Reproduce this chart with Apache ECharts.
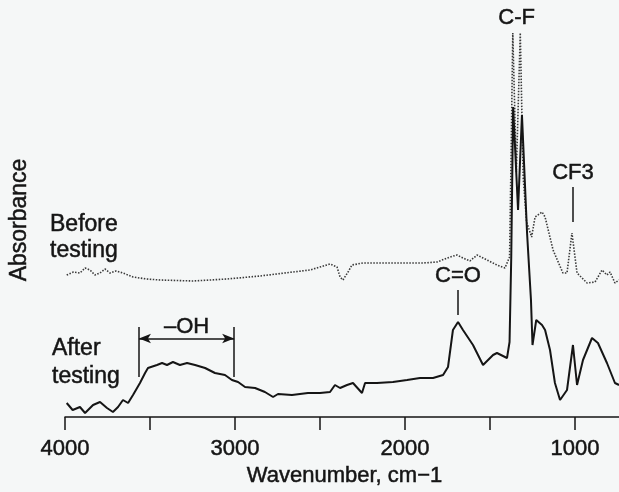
<!DOCTYPE html>
<html>
<head>
<meta charset="utf-8">
<title>IR spectra before / after testing</title>
<script src="https://cdn.jsdelivr.net/npm/echarts@6.0.0/dist/echarts.min.js"></script>
<style>
	html, body { margin: 0; padding: 0; background: #f5f7f7; }
	#chart { width: 619px; height: 492px; }
</style>
</head>
<body>
<div id="chart"></div>
<script>
"use strict";

// wavenumber (cm-1) / absorbance (a.u.)
const afterWn = [3990, 3955, 3912, 3882, 3835, 3794, 3753, 3718, 3688, 3659, 3629, 3600, 3559, 3529, 3512, 3459,
	3429, 3400, 3365, 3324, 3282, 3235, 3176, 3118, 3059, 3018, 2982, 2941, 2882, 2824, 2776, 2747, 2665, 2571,
	2500, 2441, 2412, 2382, 2341, 2306, 2253, 2235, 2165, 2071, 1988, 1912, 1835, 1776, 1747, 1718, 1688, 1659,
	1600, 1541, 1482, 1459, 1400, 1385, 1375, 1364, 1335, 1312, 1282, 1259, 1250, 1228, 1194, 1176, 1147, 1118,
	1088, 1047, 1012, 988, 953, 900, 865, 812, 765, 741];
const afterAbs = [0.14, 0.07, 0.10, 0.04, 0.12, 0.15, 0.09, 0.05, 0.10, 0.17, 0.14, 0.22, 0.34, 0.44, 0.49, 0.52,
	0.54, 0.52, 0.55, 0.52, 0.54, 0.52, 0.49, 0.44, 0.42, 0.37, 0.35, 0.30, 0.29, 0.25, 0.20, 0.23, 0.22, 0.24,
	0.24, 0.25, 0.32, 0.29, 0.32, 0.34, 0.24, 0.34, 0.34, 0.35, 0.37, 0.39, 0.39, 0.42, 0.50, 0.87, 0.95, 0.87,
	0.72, 0.52, 0.62, 0.64, 0.59, 0.75, 1.60, 3.10, 2.07, 3.02, 1.84, 1.17, 0.72, 0.97, 0.92, 0.87, 0.67, 0.34,
	0.17, 0.27, 0.72, 0.32, 0.57, 0.79, 0.74, 0.54, 0.34, 0.32];

const beforeWn = [3990, 3950, 3912, 3882, 3853, 3824, 3794, 3765, 3735, 3700, 3659, 3600, 3520, 3441, 3247, 3047,
	2853, 2659, 2559, 2441, 2400, 2382, 2365, 2335, 2312, 2247, 2047, 1894, 1812, 1735, 1694, 1659, 1618, 1576,
	1541, 1459, 1412, 1385, 1376, 1366, 1345, 1322, 1305, 1285, 1255, 1235, 1194, 1176, 1129, 1071, 1047, 1018,
	988, 929, 882, 841, 812, 794, 765, 741];
const beforeAbs = [1.42, 1.45, 1.44, 1.49, 1.47, 1.42, 1.44, 1.48, 1.44, 1.46, 1.44, 1.40, 1.38, 1.37, 1.36, 1.38,
	1.41, 1.45, 1.47, 1.53, 1.50, 1.40, 1.37, 1.45, 1.52, 1.54, 1.54, 1.54, 1.55, 1.60, 1.62, 1.59, 1.56, 1.62,
	1.59, 1.52, 1.49, 1.60, 2.60, 3.84, 2.45, 3.84, 2.40, 1.95, 1.80, 2.00, 2.05, 2.00, 1.67, 1.44, 1.44, 1.84,
	1.44, 1.34, 1.35, 1.47, 1.42, 1.45, 1.34, 1.37];

// band annotations
const ohRange = [3565, 3005];
const coPeak = 1688;
const cf3Peak = 1012;
const cfPeak = 1343;

const xTicks = [500, 4000, 500]; // min, max, interval

const ink = "#151515";
const font = "Liberation Sans, Arial, Helvetica, sans-serif";
// a thin outline in the same colour gives the heavier look of the printed type
const heavy = { textBorderColor: ink, textBorderWidth: 0.5 };

const zip = (xs, ys) => xs.map((x, i) => [x, ys[i]]);

const textStyle = (size) => Object.assign({ color: ink, fontFamily: font, fontSize: size }, heavy);

const vLine = (x, y0, y1, label) => {
	const item = [{ coord: [x, y0] }, { coord: [x, y1] }];
	if (label)
		item[1].label = Object.assign({ show: true, position: "end", distance: 3, formatter: label }, textStyle(22));
	return item;
};

const sideText = (text, x, y, rotation) => ({
	type: "text", x: x, y: y, rotation: rotation || 0,
	style: Object.assign({
		text: text, font: "23px " + font, fill: ink, stroke: ink, lineWidth: 0.5,
		align: rotation ? "center" : "left", verticalAlign: "middle"
	})
});

const chart = echarts.init(document.getElementById("chart"), null, { renderer: "canvas" });

chart.setOption({
	backgroundColor: "#f5f7f7",
	animation: false,
	// axis runs off the right edge of the scan, so let the grid overflow
	grid: { left: 65, right: -41, top: 0, bottom: 75, outerBoundsMode: "none", containLabel: false },
	xAxis: {
		type: "value",
		inverse: true,
		min: xTicks[0],
		max: xTicks[1],
		interval: xTicks[2],
		name: "Wavenumber, cm\u22121",
		nameLocation: "middle",
		nameGap: 48,
		nameTextStyle: Object.assign(textStyle(22), { padding: [0, 36, 0, 0] }),
		axisLine: { lineStyle: { color: ink, width: 1.5 } },
		axisTick: { length: 13, lineStyle: { color: ink, width: 1.5 } },
		axisLabel: Object.assign(textStyle(22), {
			margin: 21,
			formatter: (v) => (v % 1000 === 0 ? String(v) : "")
		}),
		splitLine: { show: false }
	},
	yAxis: { type: "value", min: 0, max: 4.17, show: false },
	series: [
		{
			name: "Before testing",
			type: "line",
			data: zip(beforeWn, beforeAbs),
			symbol: "none",
			lineStyle: { color: "#3a3a3a", width: 1.6, type: [1.5, 1.5] },
			markLine: {
				silent: true,
				symbol: "none",
				lineStyle: { color: ink, width: 1.5, type: "solid" },
				data: [vLine(cf3Peak, 1.95, 2.30, "CF3")]
			},
			markPoint: {
				silent: true,
				symbolSize: 0,
				label: Object.assign({ show: true, position: "inside", formatter: "C-F" }, textStyle(22)),
				data: [{ coord: [cfPeak, 3.99] }]
			}
		},
		{
			name: "After testing",
			type: "line",
			data: zip(afterWn, afterAbs),
			symbol: "none",
			lineStyle: { color: ink, width: 2 },
			markLine: {
				silent: true,
				symbol: "none",
				lineStyle: { color: ink, width: 1.5, type: "solid" },
				data: [
					vLine(coPeak, 1.02, 1.27, "C=O"),
					vLine(ohRange[0], 0.40, 0.90),
					vLine(ohRange[1], 0.40, 0.90),
					[
						{ coord: [ohRange[0], 0.785], symbol: "arrow", symbolSize: [7, 12] },
						{
							coord: [ohRange[1], 0.785], symbol: "arrow", symbolSize: [7, 12],
							label: Object.assign({
								show: true, position: "insideMiddleTop", distance: 1, formatter: "\u2013OH"
							}, textStyle(22))
						}
					]
				]
			}
		}
	],
	graphic: [
		sideText("Absorbance", 20, 220, Math.PI / 2),
		sideText("Before", 50, 225),
		sideText("testing", 50, 251),
		sideText("After", 52, 349),
		sideText("testing", 52, 377)
	]
});
</script>
</body>
</html>
